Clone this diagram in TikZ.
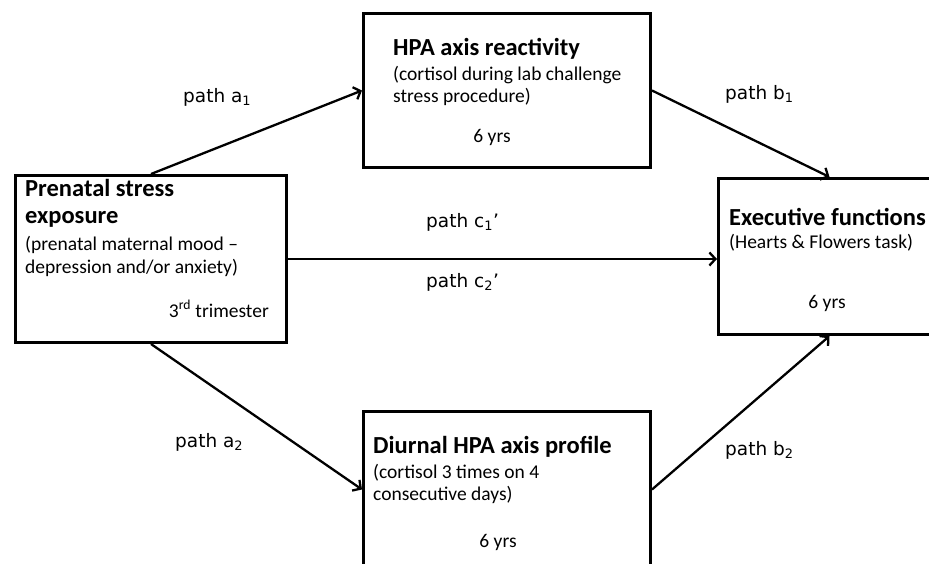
\documentclass[tikz,border=0pt]{standalone}
\usepackage{fontspec}
\setmainfont{Carlito}
\newfontfamily\labfont{DejaVu Sans}
\usetikzlibrary{arrows.meta}
\begin{document}
\begin{tikzpicture}[x=1pt,y=-1pt,
  box/.style={draw, line width=3pt, inner sep=0pt, anchor=north west},
  head/.style={anchor=base west, inner sep=0pt, font=\fontsize{24.5}{28}\selectfont\bfseries},
  body/.style={anchor=base west, inner sep=0pt, font=\fontsize{19.5}{23}\selectfont},
  lbl/.style={anchor=base west, inner sep=0pt, font=\labfont\fontsize{18.5}{22}\selectfont},
  conn/.style={line width=2.3pt, -{Straight Barb[length=6pt,width=13pt,line width=2.3pt]}}]
\clip (0,0) rectangle (929,563);
\fill[white] (0,0) rectangle (929,563);
% boxes
\node[box, minimum width=271pt, minimum height=167pt] (lbox) at (14,174) {};
\node[box, minimum width=287pt, minimum height=154pt] (tbox) at (362,12) {};
\node[box, minimum width=287pt, minimum height=156pt] (bbox) at (362,410) {};
\node[box, minimum width=222pt, minimum height=156pt] (rbox) at (717,177) {};
% left box text
\node[head] (l1) at (25,196) {Prenatal stress};
\node[head] (l2) at (25,223) {exposure};
\node[body] (l3) at (25,250) {(prenatal maternal mood –};
\node[body] (l4) at (25,273) {depression and/or anxiety)};
\node[body, anchor=base east] (l5) at (269,317) {3\textsuperscript{rd} trimester};
% top box text
\node[head] (t1) at (393,55) {HPA axis reactivity};
\node[body] (t2) at (393,80) {(cortisol during lab challenge};
\node[body] (t3) at (393,102) {stress procedure)};
\node[body, anchor=base] (t4) at (492,142) {6 yrs};
% bottom box text
\node[head] (b1) at (373,453) {Diurnal HPA axis profile};
\node[body] (b2) at (373,478) {(cortisol 3 times on 4};
\node[body] (b3) at (373,500) {consecutive days)};
\node[body, anchor=base] (b4) at (498,547) {6 yrs};
% right box text
\node[head] (r1) at (729,225) {Executive functions};
\node[body] (r2) at (729,248) {(Hearts \& Flowers task)};
\node[body, anchor=base] (r3) at (827,308) {6 yrs};
% connectors
\draw[conn] (lbox.north) -- (tbox.west);
\draw[conn] (tbox.east) -- (rbox.north);
\draw[conn] (lbox.east) -- (lbox.east -| rbox.west);
\draw[conn] (lbox.south) -- (bbox.west);
\draw[conn] (bbox.east) -- (rbox.south);
% labels
\node[lbl] (pa1) at (183,102) {path a\textsubscript{1}};
\node[lbl] (pb1) at (725,99) {path b\textsubscript{1}};
\node[lbl] (pc1) at (426,227) {path c\textsubscript{1}’};
\node[lbl] (pc2) at (426,287) {path c\textsubscript{2}’};
\node[lbl] (pa2) at (175,447) {path a\textsubscript{2}};
\node[lbl] (pb2) at (725,455) {path b\textsubscript{2}};
\end{tikzpicture}
\end{document}
